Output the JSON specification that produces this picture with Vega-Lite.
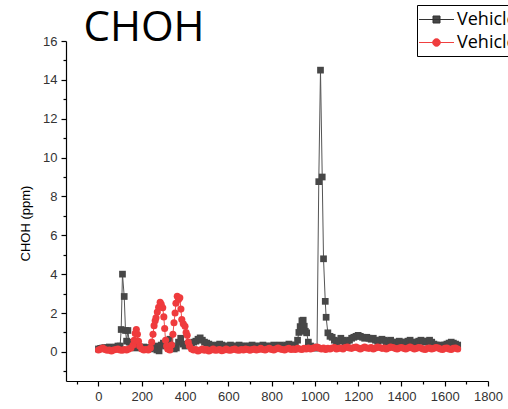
{
  "$schema": "https://vega.github.io/schema/vega-lite/v6.json",
  "width": 422,
  "height": 340,
  "autosize": "none",
  "padding": {"left": 66, "top": 41, "right": 20, "bottom": 28},
  "background": "white",
  "config": {"view": {"stroke": null}, "axis": {"grid": false}},
  "data": {"values": [
    {"s":"Vehicle 1","x":0,"y":0.15},{"s":"Vehicle 1","x":10,"y":0.18},{"s":"Vehicle 1","x":20,"y":0.2},{"s":"Vehicle 1","x":30,"y":0.22},{"s":"Vehicle 1","x":40,"y":0.2},{"s":"Vehicle 1","x":50,"y":0.25},{"s":"Vehicle 1","x":60,"y":0.22},{"s":"Vehicle 1","x":70,"y":0.2},{"s":"Vehicle 1","x":80,"y":0.25},{"s":"Vehicle 1","x":90,"y":0.3},{"s":"Vehicle 1","x":100,"y":0.3},{"s":"Vehicle 1","x":105,"y":1.15},{"s":"Vehicle 1","x":111,"y":4.0},{"s":"Vehicle 1","x":119,"y":2.85},{"s":"Vehicle 1","x":125,"y":1.1},{"s":"Vehicle 1","x":130,"y":0.55},{"s":"Vehicle 1","x":136,"y":1.1},{"s":"Vehicle 1","x":142,"y":0.5},{"s":"Vehicle 1","x":150,"y":0.3},{"s":"Vehicle 1","x":160,"y":0.25},{"s":"Vehicle 1","x":170,"y":0.2},{"s":"Vehicle 1","x":180,"y":0.22},{"s":"Vehicle 1","x":190,"y":0.25},{"s":"Vehicle 1","x":200,"y":0.2},{"s":"Vehicle 1","x":210,"y":0.25},{"s":"Vehicle 1","x":220,"y":0.22},{"s":"Vehicle 1","x":230,"y":0.2},{"s":"Vehicle 1","x":240,"y":0.15},{"s":"Vehicle 1","x":250,"y":0.2},{"s":"Vehicle 1","x":260,"y":0.3},{"s":"Vehicle 1","x":270,"y":0.1},{"s":"Vehicle 1","x":280,"y":0.05},{"s":"Vehicle 1","x":290,"y":0.35},{"s":"Vehicle 1","x":300,"y":0.45},{"s":"Vehicle 1","x":310,"y":0.3},{"s":"Vehicle 1","x":320,"y":0.5},{"s":"Vehicle 1","x":330,"y":0.65},{"s":"Vehicle 1","x":340,"y":0.3},{"s":"Vehicle 1","x":350,"y":0.15},{"s":"Vehicle 1","x":360,"y":0.2},{"s":"Vehicle 1","x":370,"y":0.5},{"s":"Vehicle 1","x":380,"y":0.7},{"s":"Vehicle 1","x":390,"y":0.4},{"s":"Vehicle 1","x":400,"y":0.3},{"s":"Vehicle 1","x":410,"y":0.35},{"s":"Vehicle 1","x":420,"y":0.4},{"s":"Vehicle 1","x":430,"y":0.45},{"s":"Vehicle 1","x":440,"y":0.5},{"s":"Vehicle 1","x":450,"y":0.55},{"s":"Vehicle 1","x":460,"y":0.65},{"s":"Vehicle 1","x":470,"y":0.72},{"s":"Vehicle 1","x":480,"y":0.6},{"s":"Vehicle 1","x":490,"y":0.5},{"s":"Vehicle 1","x":500,"y":0.45},{"s":"Vehicle 1","x":510,"y":0.4},{"s":"Vehicle 1","x":520,"y":0.35},{"s":"Vehicle 1","x":530,"y":0.3},{"s":"Vehicle 1","x":540,"y":0.3},{"s":"Vehicle 1","x":550,"y":0.35},{"s":"Vehicle 1","x":560,"y":0.4},{"s":"Vehicle 1","x":570,"y":0.35},{"s":"Vehicle 1","x":580,"y":0.3},{"s":"Vehicle 1","x":590,"y":0.25},{"s":"Vehicle 1","x":600,"y":0.3},{"s":"Vehicle 1","x":610,"y":0.35},{"s":"Vehicle 1","x":620,"y":0.3},{"s":"Vehicle 1","x":630,"y":0.25},{"s":"Vehicle 1","x":640,"y":0.3},{"s":"Vehicle 1","x":650,"y":0.35},{"s":"Vehicle 1","x":660,"y":0.3},{"s":"Vehicle 1","x":670,"y":0.3},{"s":"Vehicle 1","x":680,"y":0.25},{"s":"Vehicle 1","x":690,"y":0.3},{"s":"Vehicle 1","x":700,"y":0.3},{"s":"Vehicle 1","x":710,"y":0.35},{"s":"Vehicle 1","x":720,"y":0.3},{"s":"Vehicle 1","x":730,"y":0.25},{"s":"Vehicle 1","x":740,"y":0.3},{"s":"Vehicle 1","x":750,"y":0.3},{"s":"Vehicle 1","x":760,"y":0.35},{"s":"Vehicle 1","x":770,"y":0.3},{"s":"Vehicle 1","x":780,"y":0.3},{"s":"Vehicle 1","x":790,"y":0.25},{"s":"Vehicle 1","x":800,"y":0.3},{"s":"Vehicle 1","x":810,"y":0.35},{"s":"Vehicle 1","x":820,"y":0.3},{"s":"Vehicle 1","x":830,"y":0.3},{"s":"Vehicle 1","x":840,"y":0.35},{"s":"Vehicle 1","x":850,"y":0.3},{"s":"Vehicle 1","x":860,"y":0.3},{"s":"Vehicle 1","x":870,"y":0.35},{"s":"Vehicle 1","x":880,"y":0.4},{"s":"Vehicle 1","x":890,"y":0.35},{"s":"Vehicle 1","x":900,"y":0.3},{"s":"Vehicle 1","x":910,"y":0.35},{"s":"Vehicle 1","x":920,"y":0.6},{"s":"Vehicle 1","x":926,"y":1.0},{"s":"Vehicle 1","x":932,"y":1.3},{"s":"Vehicle 1","x":940,"y":1.6},{"s":"Vehicle 1","x":946,"y":1.63},{"s":"Vehicle 1","x":951,"y":1.32},{"s":"Vehicle 1","x":956,"y":1.06},{"s":"Vehicle 1","x":962,"y":0.98},{"s":"Vehicle 1","x":970,"y":0.5},{"s":"Vehicle 1","x":980,"y":0.3},{"s":"Vehicle 1","x":990,"y":0.25},{"s":"Vehicle 1","x":1000,"y":0.2},{"s":"Vehicle 1","x":1010,"y":0.2},{"s":"Vehicle 1","x":1018,"y":8.76},{"s":"Vehicle 1","x":1026,"y":14.5},{"s":"Vehicle 1","x":1034,"y":9.0},{"s":"Vehicle 1","x":1040,"y":4.79},{"s":"Vehicle 1","x":1048,"y":2.6},{"s":"Vehicle 1","x":1052,"y":1.78},{"s":"Vehicle 1","x":1060,"y":0.98},{"s":"Vehicle 1","x":1070,"y":0.8},{"s":"Vehicle 1","x":1080,"y":0.75},{"s":"Vehicle 1","x":1090,"y":0.6},{"s":"Vehicle 1","x":1100,"y":0.5},{"s":"Vehicle 1","x":1110,"y":0.55},{"s":"Vehicle 1","x":1120,"y":0.7},{"s":"Vehicle 1","x":1130,"y":0.6},{"s":"Vehicle 1","x":1140,"y":0.5},{"s":"Vehicle 1","x":1150,"y":0.55},{"s":"Vehicle 1","x":1160,"y":0.6},{"s":"Vehicle 1","x":1170,"y":0.7},{"s":"Vehicle 1","x":1180,"y":0.75},{"s":"Vehicle 1","x":1190,"y":0.8},{"s":"Vehicle 1","x":1200,"y":0.85},{"s":"Vehicle 1","x":1210,"y":0.8},{"s":"Vehicle 1","x":1220,"y":0.75},{"s":"Vehicle 1","x":1230,"y":0.7},{"s":"Vehicle 1","x":1240,"y":0.75},{"s":"Vehicle 1","x":1250,"y":0.7},{"s":"Vehicle 1","x":1260,"y":0.65},{"s":"Vehicle 1","x":1270,"y":0.7},{"s":"Vehicle 1","x":1280,"y":0.6},{"s":"Vehicle 1","x":1290,"y":0.55},{"s":"Vehicle 1","x":1300,"y":0.6},{"s":"Vehicle 1","x":1310,"y":0.65},{"s":"Vehicle 1","x":1320,"y":0.6},{"s":"Vehicle 1","x":1330,"y":0.5},{"s":"Vehicle 1","x":1340,"y":0.55},{"s":"Vehicle 1","x":1350,"y":0.6},{"s":"Vehicle 1","x":1360,"y":0.5},{"s":"Vehicle 1","x":1370,"y":0.45},{"s":"Vehicle 1","x":1380,"y":0.5},{"s":"Vehicle 1","x":1390,"y":0.55},{"s":"Vehicle 1","x":1400,"y":0.5},{"s":"Vehicle 1","x":1410,"y":0.45},{"s":"Vehicle 1","x":1420,"y":0.5},{"s":"Vehicle 1","x":1430,"y":0.55},{"s":"Vehicle 1","x":1440,"y":0.6},{"s":"Vehicle 1","x":1450,"y":0.5},{"s":"Vehicle 1","x":1460,"y":0.45},{"s":"Vehicle 1","x":1470,"y":0.5},{"s":"Vehicle 1","x":1480,"y":0.55},{"s":"Vehicle 1","x":1490,"y":0.6},{"s":"Vehicle 1","x":1500,"y":0.55},{"s":"Vehicle 1","x":1510,"y":0.5},{"s":"Vehicle 1","x":1520,"y":0.55},{"s":"Vehicle 1","x":1530,"y":0.6},{"s":"Vehicle 1","x":1540,"y":0.5},{"s":"Vehicle 1","x":1550,"y":0.4},{"s":"Vehicle 1","x":1560,"y":0.35},{"s":"Vehicle 1","x":1570,"y":0.3},{"s":"Vehicle 1","x":1580,"y":0.35},{"s":"Vehicle 1","x":1590,"y":0.3},{"s":"Vehicle 1","x":1600,"y":0.35},{"s":"Vehicle 1","x":1610,"y":0.4},{"s":"Vehicle 1","x":1620,"y":0.45},{"s":"Vehicle 1","x":1630,"y":0.5},{"s":"Vehicle 1","x":1640,"y":0.45},{"s":"Vehicle 1","x":1650,"y":0.4},{"s":"Vehicle 1","x":1660,"y":0.35},
    {"s":"Vehicle 2","x":0,"y":0.1},{"s":"Vehicle 2","x":10,"y":0.15},{"s":"Vehicle 2","x":20,"y":0.2},{"s":"Vehicle 2","x":30,"y":0.12},{"s":"Vehicle 2","x":40,"y":0.08},{"s":"Vehicle 2","x":50,"y":0.1},{"s":"Vehicle 2","x":60,"y":0.05},{"s":"Vehicle 2","x":70,"y":0.1},{"s":"Vehicle 2","x":80,"y":0.12},{"s":"Vehicle 2","x":90,"y":0.15},{"s":"Vehicle 2","x":100,"y":0.1},{"s":"Vehicle 2","x":110,"y":0.08},{"s":"Vehicle 2","x":120,"y":0.12},{"s":"Vehicle 2","x":130,"y":0.1},{"s":"Vehicle 2","x":140,"y":0.15},{"s":"Vehicle 2","x":150,"y":0.2},{"s":"Vehicle 2","x":160,"y":0.35},{"s":"Vehicle 2","x":165,"y":0.6},{"s":"Vehicle 2","x":170,"y":0.95},{"s":"Vehicle 2","x":175,"y":1.15},{"s":"Vehicle 2","x":180,"y":0.9},{"s":"Vehicle 2","x":185,"y":0.55},{"s":"Vehicle 2","x":190,"y":0.3},{"s":"Vehicle 2","x":200,"y":0.15},{"s":"Vehicle 2","x":210,"y":0.1},{"s":"Vehicle 2","x":220,"y":0.12},{"s":"Vehicle 2","x":230,"y":0.1},{"s":"Vehicle 2","x":240,"y":0.2},{"s":"Vehicle 2","x":246,"y":0.5},{"s":"Vehicle 2","x":252,"y":0.9},{"s":"Vehicle 2","x":257,"y":1.35},{"s":"Vehicle 2","x":262,"y":1.6},{"s":"Vehicle 2","x":266,"y":1.75},{"s":"Vehicle 2","x":272,"y":2.05},{"s":"Vehicle 2","x":278,"y":2.3},{"s":"Vehicle 2","x":285,"y":2.55},{"s":"Vehicle 2","x":290,"y":2.45},{"s":"Vehicle 2","x":297,"y":2.27},{"s":"Vehicle 2","x":302,"y":1.8},{"s":"Vehicle 2","x":306,"y":1.2},{"s":"Vehicle 2","x":310,"y":0.6},{"s":"Vehicle 2","x":315,"y":0.3},{"s":"Vehicle 2","x":320,"y":0.15},{"s":"Vehicle 2","x":330,"y":0.1},{"s":"Vehicle 2","x":338,"y":0.35},{"s":"Vehicle 2","x":344,"y":0.9},{"s":"Vehicle 2","x":349,"y":1.5},{"s":"Vehicle 2","x":354,"y":2.0},{"s":"Vehicle 2","x":358,"y":2.5},{"s":"Vehicle 2","x":364,"y":2.86},{"s":"Vehicle 2","x":370,"y":2.7},{"s":"Vehicle 2","x":376,"y":2.78},{"s":"Vehicle 2","x":381,"y":2.2},{"s":"Vehicle 2","x":385,"y":1.66},{"s":"Vehicle 2","x":392,"y":1.45},{"s":"Vehicle 2","x":400,"y":1.32},{"s":"Vehicle 2","x":405,"y":1.0},{"s":"Vehicle 2","x":410,"y":0.85},{"s":"Vehicle 2","x":415,"y":0.5},{"s":"Vehicle 2","x":420,"y":0.3},{"s":"Vehicle 2","x":430,"y":0.15},{"s":"Vehicle 2","x":440,"y":0.1},{"s":"Vehicle 2","x":450,"y":0.12},{"s":"Vehicle 2","x":460,"y":0.05},{"s":"Vehicle 2","x":470,"y":0.1},{"s":"Vehicle 2","x":480,"y":0.15},{"s":"Vehicle 2","x":490,"y":0.08},{"s":"Vehicle 2","x":500,"y":0.12},{"s":"Vehicle 2","x":510,"y":0.05},{"s":"Vehicle 2","x":520,"y":0.1},{"s":"Vehicle 2","x":530,"y":0.15},{"s":"Vehicle 2","x":540,"y":0.08},{"s":"Vehicle 2","x":550,"y":0.1},{"s":"Vehicle 2","x":560,"y":0.12},{"s":"Vehicle 2","x":570,"y":0.06},{"s":"Vehicle 2","x":580,"y":0.1},{"s":"Vehicle 2","x":590,"y":0.14},{"s":"Vehicle 2","x":600,"y":0.1},{"s":"Vehicle 2","x":610,"y":0.08},{"s":"Vehicle 2","x":620,"y":0.12},{"s":"Vehicle 2","x":630,"y":0.15},{"s":"Vehicle 2","x":640,"y":0.1},{"s":"Vehicle 2","x":650,"y":0.08},{"s":"Vehicle 2","x":660,"y":0.12},{"s":"Vehicle 2","x":670,"y":0.1},{"s":"Vehicle 2","x":680,"y":0.15},{"s":"Vehicle 2","x":690,"y":0.12},{"s":"Vehicle 2","x":700,"y":0.08},{"s":"Vehicle 2","x":710,"y":0.12},{"s":"Vehicle 2","x":720,"y":0.15},{"s":"Vehicle 2","x":730,"y":0.1},{"s":"Vehicle 2","x":740,"y":0.12},{"s":"Vehicle 2","x":750,"y":0.18},{"s":"Vehicle 2","x":760,"y":0.12},{"s":"Vehicle 2","x":770,"y":0.1},{"s":"Vehicle 2","x":780,"y":0.15},{"s":"Vehicle 2","x":790,"y":0.18},{"s":"Vehicle 2","x":800,"y":0.12},{"s":"Vehicle 2","x":810,"y":0.1},{"s":"Vehicle 2","x":820,"y":0.15},{"s":"Vehicle 2","x":830,"y":0.2},{"s":"Vehicle 2","x":840,"y":0.15},{"s":"Vehicle 2","x":850,"y":0.12},{"s":"Vehicle 2","x":860,"y":0.1},{"s":"Vehicle 2","x":870,"y":0.15},{"s":"Vehicle 2","x":880,"y":0.18},{"s":"Vehicle 2","x":890,"y":0.12},{"s":"Vehicle 2","x":900,"y":0.15},{"s":"Vehicle 2","x":910,"y":0.12},{"s":"Vehicle 2","x":920,"y":0.18},{"s":"Vehicle 2","x":930,"y":0.15},{"s":"Vehicle 2","x":940,"y":0.12},{"s":"Vehicle 2","x":950,"y":0.18},{"s":"Vehicle 2","x":960,"y":0.15},{"s":"Vehicle 2","x":970,"y":0.2},{"s":"Vehicle 2","x":980,"y":0.15},{"s":"Vehicle 2","x":990,"y":0.18},{"s":"Vehicle 2","x":1000,"y":0.22},{"s":"Vehicle 2","x":1010,"y":0.25},{"s":"Vehicle 2","x":1020,"y":0.2},{"s":"Vehicle 2","x":1030,"y":0.15},{"s":"Vehicle 2","x":1040,"y":0.2},{"s":"Vehicle 2","x":1050,"y":0.12},{"s":"Vehicle 2","x":1060,"y":0.18},{"s":"Vehicle 2","x":1070,"y":0.15},{"s":"Vehicle 2","x":1080,"y":0.2},{"s":"Vehicle 2","x":1090,"y":0.22},{"s":"Vehicle 2","x":1100,"y":0.15},{"s":"Vehicle 2","x":1110,"y":0.18},{"s":"Vehicle 2","x":1120,"y":0.2},{"s":"Vehicle 2","x":1130,"y":0.15},{"s":"Vehicle 2","x":1140,"y":0.22},{"s":"Vehicle 2","x":1150,"y":0.25},{"s":"Vehicle 2","x":1160,"y":0.2},{"s":"Vehicle 2","x":1170,"y":0.18},{"s":"Vehicle 2","x":1180,"y":0.22},{"s":"Vehicle 2","x":1190,"y":0.25},{"s":"Vehicle 2","x":1200,"y":0.2},{"s":"Vehicle 2","x":1210,"y":0.15},{"s":"Vehicle 2","x":1220,"y":0.2},{"s":"Vehicle 2","x":1230,"y":0.25},{"s":"Vehicle 2","x":1240,"y":0.2},{"s":"Vehicle 2","x":1250,"y":0.18},{"s":"Vehicle 2","x":1260,"y":0.22},{"s":"Vehicle 2","x":1270,"y":0.15},{"s":"Vehicle 2","x":1280,"y":0.2},{"s":"Vehicle 2","x":1290,"y":0.25},{"s":"Vehicle 2","x":1300,"y":0.22},{"s":"Vehicle 2","x":1310,"y":0.18},{"s":"Vehicle 2","x":1320,"y":0.2},{"s":"Vehicle 2","x":1330,"y":0.15},{"s":"Vehicle 2","x":1340,"y":0.2},{"s":"Vehicle 2","x":1350,"y":0.25},{"s":"Vehicle 2","x":1360,"y":0.22},{"s":"Vehicle 2","x":1370,"y":0.18},{"s":"Vehicle 2","x":1380,"y":0.15},{"s":"Vehicle 2","x":1390,"y":0.2},{"s":"Vehicle 2","x":1400,"y":0.22},{"s":"Vehicle 2","x":1410,"y":0.18},{"s":"Vehicle 2","x":1420,"y":0.15},{"s":"Vehicle 2","x":1430,"y":0.2},{"s":"Vehicle 2","x":1440,"y":0.25},{"s":"Vehicle 2","x":1450,"y":0.2},{"s":"Vehicle 2","x":1460,"y":0.15},{"s":"Vehicle 2","x":1470,"y":0.18},{"s":"Vehicle 2","x":1480,"y":0.22},{"s":"Vehicle 2","x":1490,"y":0.2},{"s":"Vehicle 2","x":1500,"y":0.15},{"s":"Vehicle 2","x":1510,"y":0.12},{"s":"Vehicle 2","x":1520,"y":0.18},{"s":"Vehicle 2","x":1530,"y":0.2},{"s":"Vehicle 2","x":1540,"y":0.15},{"s":"Vehicle 2","x":1550,"y":0.18},{"s":"Vehicle 2","x":1560,"y":0.22},{"s":"Vehicle 2","x":1570,"y":0.2},{"s":"Vehicle 2","x":1580,"y":0.15},{"s":"Vehicle 2","x":1590,"y":0.12},{"s":"Vehicle 2","x":1600,"y":0.18},{"s":"Vehicle 2","x":1610,"y":0.2},{"s":"Vehicle 2","x":1620,"y":0.15},{"s":"Vehicle 2","x":1630,"y":0.12},{"s":"Vehicle 2","x":1640,"y":0.18},{"s":"Vehicle 2","x":1650,"y":0.2},{"s":"Vehicle 2","x":1660,"y":0.15}
  ]},
  "resolve": {"axis": {"x": "independent", "y": "independent"}},
  "layer": [
    {
      "transform": [{"filter": "datum.s === 'Vehicle 1'"}],
      "mark": {"type": "line", "color": "#555555", "strokeWidth": 1},
      "encoding": {
        "x": {"field": "x", "type": "quantitative", "scale": {"domain": [-150, 1800], "nice": false, "zero": false},
              "axis": {"orient": "bottom", "values": [0,200,400,600,800,1000,1200,1400,1600,1800], "format": "d", "title": null, "tickSize": 5, "tickColor": "black", "domainColor": "black", "domainWidth": 1.2, "tickWidth": 1.2, "labelFont": "Liberation Sans", "labelFontSize": 13, "labelColor": "#333333", "labelPadding": 4, "labelFlush": false}},
        "y": {"field": "y", "type": "quantitative", "scale": {"domain": [-1.5, 16], "nice": false, "zero": false},
              "axis": {"orient": "left", "values": [0,2,4,6,8,10,12,14,16], "format": "d", "title": "CHOH (ppm)", "titleFont": "Liberation Sans", "titleFontSize": 13, "titleFontWeight": "normal", "titleColor": "black", "titleX": -34, "titleY": 182, "tickSize": 5, "tickColor": "black", "domainColor": "black", "domainWidth": 1.2, "tickWidth": 1.2, "labelFont": "Liberation Sans", "labelFontSize": 13, "labelColor": "#333333", "labelPadding": 4, "labelFlush": false}}
      }
    },
    {
      "transform": [{"filter": "datum.s === 'Vehicle 1'"}],
      "mark": {"type": "point", "shape": "square", "filled": true, "size": 45, "opacity": 1, "color": "#474747"},
      "encoding": {
        "x": {"field": "x", "type": "quantitative", "axis": {"orient": "bottom", "values": [-100,100,300,500,700,900,1100,1300,1500,1700], "labels": false, "domain": false, "title": null, "tickSize": 3, "tickColor": "black", "tickWidth": 1.2}},
        "y": {"field": "y", "type": "quantitative", "axis": {"orient": "left", "values": [-1,1,3,5,7,9,11,13,15], "labels": false, "domain": false, "title": null, "tickSize": 3, "tickColor": "black", "tickWidth": 1.2}}
      }
    },
    {
      "transform": [{"filter": "datum.s === 'Vehicle 2'"}],
      "mark": {"type": "line", "color": "#f05050", "strokeWidth": 1},
      "encoding": {
        "x": {"field": "x", "type": "quantitative", "axis": {"orient": "top", "domain": false, "ticks": false, "labels": false, "grid": false, "title": "CHOH", "titleFont": "Open Sans", "titleFontSize": 42, "titleFontWeight": "normal", "titleColor": "black", "titleX": 17, "titleY": -1, "titleAlign": "left", "titleBaseline": "alphabetic", "titleAngle": 0}},
        "y": {"field": "y", "type": "quantitative", "axis": null}
      }
    },
    {
      "transform": [{"filter": "datum.s === 'Vehicle 2'"}],
      "mark": {"type": "point", "shape": "circle", "filled": true, "size": 50, "opacity": 1, "color": "#ef3b3d"},
      "encoding": {
        "x": {"field": "x", "type": "quantitative", "axis": null},
        "y": {"field": "y", "type": "quantitative", "axis": null}
      }
    },
    {
      "transform": [{"filter": "datum.x < -1000"}],
      "mark": {"type": "point", "filled": true, "opacity": 1, "strokeWidth": 1},
      "encoding": {
        "x": {"field": "x", "type": "quantitative", "axis": null},
        "y": {"field": "y", "type": "quantitative", "axis": null},
        "color": {"field": "s", "type": "nominal", "scale": {"domain": ["Vehicle 1", "Vehicle 2"], "range": ["#474747", "#ef3b3d"]}, "legend": {"orient": "none", "legendX": 351, "legendY": -36, "title": null, "strokeColor": "black", "padding": 4, "symbolSize": 400, "symbolStrokeWidth": 1, "symbolOpacity": 1, "symbolOffset": 5, "labelFont": "Open Sans", "labelFontSize": 18, "labelColor": "black", "labelOffset": 10, "rowPadding": 3}},
        "stroke": {"field": "s", "type": "nominal", "scale": {"domain": ["Vehicle 1", "Vehicle 2"], "range": ["#333333", "#f04040"]}, "legend": {"orient": "none", "legendX": 351, "legendY": -36, "title": null, "strokeColor": "black", "padding": 4, "symbolSize": 400, "symbolStrokeWidth": 1, "symbolOpacity": 1, "symbolOffset": 5, "labelFont": "Open Sans", "labelFontSize": 18, "labelColor": "black", "labelOffset": 10, "rowPadding": 3}},
        "shape": {"field": "s", "type": "nominal", "scale": {"domain": ["Vehicle 1", "Vehicle 2"], "range": ["M-1.75,0H1.75M-0.35,-0.35H0.35V0.35H-0.35Z", "M-1.75,0H1.75M0.38,0A0.38,0.38 0 1,1 -0.38,0A0.38,0.38 0 1,1 0.38,0Z"]}, "legend": {"orient": "none", "legendX": 351, "legendY": -36, "title": null, "strokeColor": "black", "padding": 4, "symbolSize": 400, "symbolStrokeWidth": 1, "symbolOpacity": 1, "symbolOffset": 5, "labelFont": "Open Sans", "labelFontSize": 18, "labelColor": "black", "labelOffset": 10, "rowPadding": 3}}
      }
    }
  ]
}
